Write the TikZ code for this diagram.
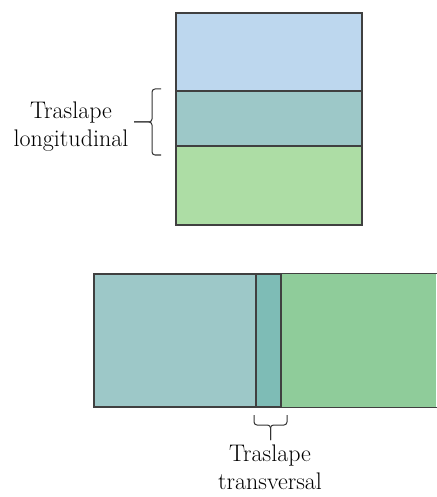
\documentclass[tikz,border=0pt]{standalone}
\definecolor{azulclaro}{HTML}{BDD7EE}
\definecolor{verdeazul}{HTML}{9DC8C8}
\definecolor{verdeclaro}{HTML}{ADDDA5}
\definecolor{franja}{HTML}{7EBCB6}
\definecolor{verdemedio}{HTML}{8FCC9A}
\definecolor{borde}{HTML}{404040}
\tikzset{
    pieza/.style={draw=borde, line width=1.3pt, minimum width=#1, inner sep=0pt},
    rotulo/.style={align=center, inner sep=0pt, font=\fontsize{24}{28}\selectfont},
    llave/.style={draw=black!80, line width=1pt, rounded corners=3pt}
}
\begin{document}
\begin{tikzpicture}[x=1pt, y=-1pt]
    \useasboundingbox (0,0) rectangle (436,497);
    % traslape longitudinal
    \node [pieza=186pt, fill=azulclaro, minimum height=78pt] (arriba) at (269,52) {};
    \node [pieza=186pt, fill=verdeazul, minimum height=55pt] (medio) at (269,118.5) {};
    \node [pieza=186pt, fill=verdeclaro, minimum height=79pt] (abajo) at (269,185.5) {};
    \node [rotulo] (longitudinal) at (71,126.5) {Traslape\\longitudinal};
    \coordinate (Lsup) at (161,89);
    \coordinate (Linf) at (161,155);
    \coordinate (Lpico) at (134,122);
    \draw [llave] (Lsup) -- (152,89) -- (152,122) -- (Lpico);
    \draw [llave] (Linf) -- (152,155) -- (152,122) -- (Lpico);
    % traslape transversal
    \node [pieza=162pt, fill=verdeazul, minimum height=133pt] (izquierda) at (175,340.5) {};
    \node [pieza=155pt, draw=none, fill=verdemedio, minimum height=133pt] (derecha) at (358.5,340.5) {};
    \draw [borde, line width=1.3pt] (derecha.north west) -- (derecha.north east)
        (derecha.south west) -- (derecha.south east);
    \node [pieza=25pt, fill=franja, minimum height=133pt] (franja) at (268.5,340.5) {};
    \node [rotulo] (transversal) at (270,467) {Traslape\\transversal};
    \coordinate (Tizq) at (254,415);
    \coordinate (Tder) at (287,415);
    \coordinate (Tpico) at (270.5,440);
    \draw [llave] (Tizq) -- (254,425) -- (270.5,425) -- (Tpico);
    \draw [llave] (Tder) -- (287,425) -- (270.5,425) -- (Tpico);
\end{tikzpicture}
\end{document}
